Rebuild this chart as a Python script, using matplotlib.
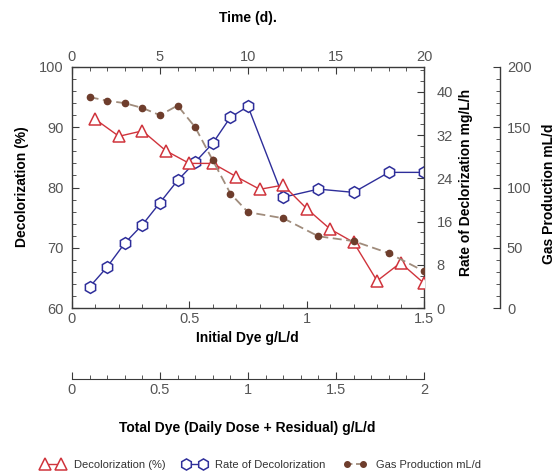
import matplotlib
matplotlib.use("Agg")
import matplotlib.pyplot as plt
from matplotlib.ticker import MultipleLocator
from matplotlib.lines import Line2D

plt.rcParams['font.family'] = ['Liberation Sans', 'DejaVu Sans']

# ---- data ----
initial_dye = [0.1, 0.2, 0.3, 0.4, 0.5, 0.6, 0.7, 0.8, 0.9, 1.0, 1.1, 1.2, 1.3, 1.4, 1.5]
decolorization = [91.3, 88.5, 89.4, 86.1, 84.0, 84.0, 81.8, 79.7, 80.4, 76.5, 73.1, 70.9, 64.5, 67.5, 64.1]

days = [1, 2, 3, 4, 5, 6, 7, 8, 9, 10, 12, 14, 16, 18, 20]
rate = [3.9, 7.6, 12.0, 15.4, 19.5, 23.6, 27.0, 30.5, 35.3, 37.3, 20.5, 22.0, 21.4, 25.1, 25.1]
gas = [175, 172, 170, 166, 160, 168, 150, 122.5, 95, 79.5, 74.5, 59.5, 55.5, 45.5, 30.5]

red = '#d0343c'
blue = '#2e2e9a'
brown = '#6e3d2c'
gasline = '#a08c7c'
tickc = '#555555'
spinec = '#3a3a3a'

W, H = 557, 472
fig = plt.figure(figsize=(W / 100, H / 100), dpi=100)

def fx(px):
    return px / W

def fy(py):
    return 1 - py / H

L, R, T, B = 72, 424, 67, 308
pos = [fx(L), fy(B), fx(R) - fx(L), fy(T) - fy(B)]

def style_axis(a):
    for s in a.spines.values():
        s.set_color(spinec)
        s.set_linewidth(1.0)
    a.tick_params(which='both', direction='in', colors=spinec, labelcolor=tickc, labelsize=10.5)
    a.tick_params(which='major', length=5)
    a.tick_params(which='minor', length=3)

# main axes: decolorization vs initial dye
ax = fig.add_axes(pos)
ax.set_xlim(0, 1.5)
ax.set_ylim(60, 100)
ax.xaxis.set_minor_locator(MultipleLocator(0.1))
ax.yaxis.set_major_locator(MultipleLocator(10))
ax.yaxis.set_minor_locator(MultipleLocator(2))
ax.set_xticks([0, 0.5, 1, 1.5])
ax.set_xticklabels(['0', '0.5', '1', '1.5'])
style_axis(ax)
ax.tick_params(axis='x', pad=3)
ax.tick_params(axis='y', pad=6)
ax.spines['right'].set_visible(False)
ax.spines['top'].set_visible(False)

# rate axes (time on top, rate on right)
axr = fig.add_axes(pos)
axr.patch.set_visible(False)
axr.set_xlim(0, 20)
axr.set_ylim(0, 44.6)
axr.xaxis.tick_top()
axr.yaxis.tick_right()
axr.xaxis.set_major_locator(MultipleLocator(5))
axr.xaxis.set_minor_locator(MultipleLocator(1))
axr.yaxis.set_major_locator(MultipleLocator(8))
axr.yaxis.set_minor_locator(MultipleLocator(2))
style_axis(axr)
axr.spines['left'].set_visible(False)
axr.spines['bottom'].set_visible(False)
axr.tick_params(axis='y', pad=9)
axr.tick_params(axis='x', pad=2)

# gas axes (time, gas on offset right spine)
axg = fig.add_axes(pos)
axg.patch.set_visible(False)
axg.set_xlim(0, 20)
axg.set_ylim(0, 200)
axg.xaxis.set_visible(False)
for s in ['left', 'top', 'bottom']:
    axg.spines[s].set_visible(False)
axg.yaxis.tick_right()
axg.spines['right'].set_position(('axes', (500 - L) / (R - L)))
axg.yaxis.set_major_locator(MultipleLocator(50))
axg.yaxis.set_minor_locator(MultipleLocator(10))
style_axis(axg)
axg.tick_params(axis='y', pad=5)

# plot series
axr.plot(days, rate, color=blue, lw=1.0, marker='h', ms=8.5, mfc='white', mec=blue, mew=1.1)
ax.plot(initial_dye, decolorization, color=red, lw=1.0, marker='^', ms=9, mfc='white', mec=red, mew=1.1)
axg.plot(days, gas, color=gasline, lw=1.3, ls=(0, (5, 2.5)))
axg.plot(days, gas, ls='none', marker='o', ms=4.5, color=brown)

axr.set_zorder(1)
ax.set_zorder(2)
ax.patch.set_visible(False)
axg.set_zorder(3)

# second bottom axis: total dye
axt = fig.add_axes([fx(L), fy(379), fx(R) - fx(L), 0.001])
axt.patch.set_visible(False)
axt.set_xlim(0, 2)
for s in ['left', 'top', 'right']:
    axt.spines[s].set_visible(False)
axt.yaxis.set_visible(False)
axt.xaxis.set_minor_locator(MultipleLocator(0.1))
axt.set_xticks([0, 0.5, 1, 1.5, 2])
axt.set_xticklabels(['0', '0.5', '1', '1.5', '2'])
for s in axt.spines.values():
    s.set_color(spinec)
axt.tick_params(which='both', direction='in', colors=spinec, labelcolor=tickc, labelsize=10.5)
axt.tick_params(which='major', length=5, pad=3)
axt.tick_params(which='minor', length=3)

# texts
fig.text(fx(248), fy(18), 'Time (d).', ha='center', va='center', fontsize=10, fontweight='bold')
fig.text(fx(22), fy(187), 'Decolorization (%)', ha='center', va='center', rotation=90, fontsize=10, fontweight='bold')
fig.text(fx(466), fy(182), 'Rate of Declorization mg/L/h', ha='center', va='center', rotation=90, fontsize=10, fontweight='bold')
fig.text(fx(549), fy(194), 'Gas Production mL/d', ha='center', va='center', rotation=90, fontsize=10, fontweight='bold')
fig.text(fx(247), fy(338), 'Initial Dye g/L/d', ha='center', va='center', fontsize=10, fontweight='bold')
fig.text(fx(247), fy(428), 'Total Dye (Daily Dose + Residual) g/L/d', ha='center', va='center', fontsize=10, fontweight='bold')

# legend
handles = [
    Line2D([], [], color=red, lw=1.0, marker='^', ms=8, mfc='white', mec=red, mew=1.1),
    Line2D([], [], color=blue, lw=1.0, marker='h', ms=8, mfc='white', mec=blue, mew=1.1),
    Line2D([], [], color=gasline, lw=1.3, ls=(0, (3, 2)), marker='o', ms=4, mfc=brown, mec=brown),
]
labels = ['Decolorization (%)', 'Rate of Decolorization', 'Gas Production mL/d']
fig.legend(handles, labels, loc='center', bbox_to_anchor=(fx(261), fy(465)), ncol=3, frameon=False,
           fontsize=8, numpoints=2, handlelength=2.1, handletextpad=0.8, columnspacing=1.6,
           labelcolor='#333333')

fig.savefig('out.png', dpi=100)
